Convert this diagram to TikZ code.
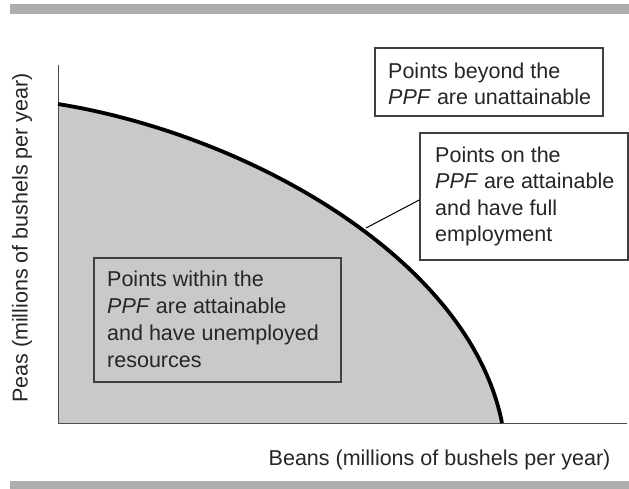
\documentclass[tikz,border=0pt]{standalone}
\usepackage{fontspec}
\setmainfont{Liberation Sans}
\begin{document}
\begin{tikzpicture}[x=1pt,y=-1pt,
  lbl/.style={font=\fontsize{21.5}{26.5}\selectfont, text=black!85},
  boxframe/.style={draw=black!75, line width=1.6pt, inner sep=0pt},
  boxtext/.style={lbl, align=left, inner sep=0pt, anchor=north west},
  bar/.style={fill=black!32}]
\useasboundingbox (0,0) rectangle (629,489);
\fill[white] (0,0) rectangle (629,489);
% bars
\fill[bar] (10,4) rectangle (629,14);
\fill[bar] (10,481) rectangle (629,489);
% coordinates
\coordinate (O) at (58,423);
\coordinate (ytop) at (58,65);
\coordinate (xend) at (627,423);
\coordinate (c0) at (58,104);
\coordinate (c3) at (502,423);
% area
\fill[black!21] (c0) .. controls (250,135) and (470,260) .. (c3) -- (O) -- cycle;
% axes
\draw[black!70, line width=1pt] (ytop) -- (O) -- (xend);
% curve
\draw[black, line width=3.8pt] (c0) .. controls (250,135) and (470,260) .. (c3);
\coordinate (touch) at (366,228);
% boxes
\node[boxframe, fill=white, minimum width=228pt, minimum height=68pt] (beyond) at (489,82) {};
\node[boxtext] (beyondtext) at (388,62.5) {Points beyond the\\\textit{PPF} are unattainable};
\node[boxframe, fill=white, minimum width=208pt, minimum height=127pt] (on) at (524,196.5) {};
\node[boxtext] (ontext) at (435,146.5) {Points on the\\\textit{PPF} are attainable\\and have full\\employment};
\node[boxframe, fill=black!21, minimum width=247pt, minimum height=124pt] (within) at (217.5,320) {};
\node[boxtext, font=\fontsize{21.5}{27}\selectfont] (withintext) at (107,270.5) {Points within the\\\textit{PPF} are attainable\\and have unemployed\\resources};
\draw[black, line width=1pt] (touch) -- (on.west |- 0,200);
% axis labels
\node[lbl, anchor=base east] (xlab) at (614,465) {Beans (millions of bushels per year)};
\node[lbl, rotate=90] (ylab) at (22,238) {Peas (millions of bushels per year)};
\end{tikzpicture}
\end{document}
